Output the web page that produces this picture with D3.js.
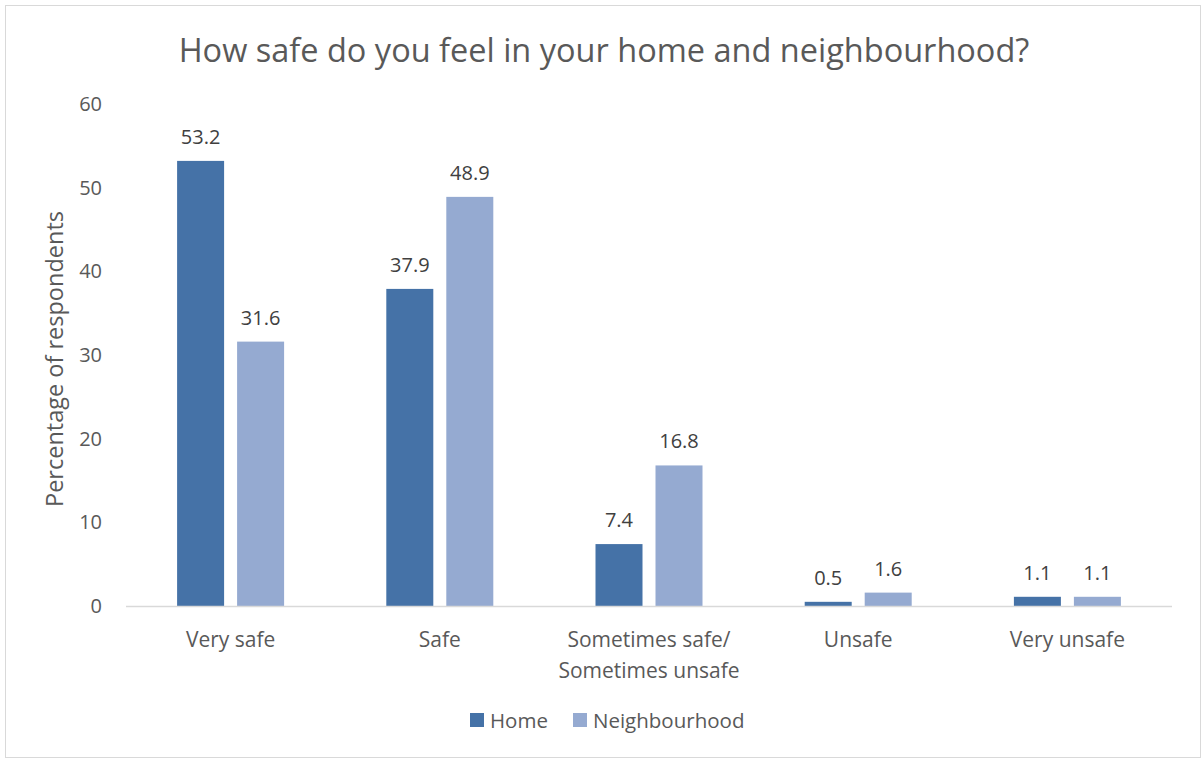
<!DOCTYPE html>
<html>
<head>
<meta charset="utf-8">
<script src="https://cdn.jsdelivr.net/npm/d3@7"></script>
<style>
  html, body { margin: 0; padding: 0; background: #fff; }
  svg { display: block; font-family: "Open Sans", "Noto Sans", sans-serif; }
</style>
</head>
<body>
<svg id="chart" width="1203" height="761"></svg>
<script>
const categories = ["Very safe", "Safe", "Sometimes safe/\nSometimes unsafe", "Unsafe", "Very unsafe"];
const seriesNames = ["Home", "Neighbourhood"];
const homeValues = [53.2, 37.9, 7.4, 0.5, 1.1];
const neighbourhoodValues = [31.6, 48.9, 16.8, 1.6, 1.1];
const yTicks = [0, 10, 20, 30, 40, 50, 60];
const colors = ["#4572A7", "#95AAD1"];
const title = "How safe do you feel in your home and neighbourhood?";
const yTitle = "Percentage of respondents";

const svg = d3.select("#chart");
const textColor = "#595959";

// outer frame
svg.append("rect")
  .attr("x", 5.5).attr("y", 5.5).attr("width", 1195).attr("height", 752)
  .attr("fill", "#fff").attr("stroke", "#D9D9D9").attr("stroke-width", 1);

const plot = { left: 126, right: 1172, top: 104, bottom: 606 };

const x0 = d3.scaleBand().domain(d3.range(categories.length))
  .range([plot.left, plot.right]).paddingInner(0).paddingOuter(0);
const bandW = x0.bandwidth();
const barW = 47, barGap = 13;
const x1 = d3.scaleOrdinal().domain([0, 1])
  .range([bandW / 2 - barGap / 2 - barW, bandW / 2 + barGap / 2]);
const y = d3.scaleLinear().domain([0, 60]).range([plot.bottom, plot.top]);

// title
svg.append("text")
  .attr("x", 604).attr("y", 62)
  .attr("text-anchor", "middle")
  .attr("fill", textColor)
  .attr("font-size", 32.5)
  .text(title);

// y axis tick labels
const yAxis = d3.axisLeft(y).tickValues(yTicks).tickSize(0).tickPadding(0);
const yg = svg.append("g").attr("transform", `translate(${plot.left - 24},0)`).call(yAxis);
yg.select(".domain").remove();
yg.selectAll("text").attr("fill", textColor).attr("font-size", 20)
  .attr("font-family", "'Open Sans', sans-serif");

// y axis title
svg.append("text")
  .attr("transform", `translate(63,${(plot.top + plot.bottom) / 2 + 4}) rotate(-90)`)
  .attr("text-anchor", "middle")
  .attr("fill", textColor)
  .attr("font-size", 23.5)
  .text(yTitle);

// bars
const data = categories.map((c, i) => ({ i, values: [homeValues[i], neighbourhoodValues[i]] }));
const groups = svg.append("g").selectAll("g").data(data).join("g")
  .attr("transform", d => `translate(${x0(d.i)},0)`);

groups.selectAll("rect").data(d => d.values.map((v, s) => ({ v, s })))
  .join("rect")
  .attr("x", d => x1(d.s))
  .attr("y", d => y(d.v))
  .attr("width", barW)
  .attr("height", d => y(0) - y(d.v))
  .attr("fill", d => colors[d.s]);

groups.selectAll("text.val").data(d => d.values.map((v, s) => ({ v, s })))
  .join("text")
  .attr("class", "val")
  .attr("x", d => x1(d.s) + barW / 2)
  .attr("y", d => y(d.v) - 17)
  .attr("text-anchor", "middle")
  .attr("fill", "#404040")
  .attr("font-size", 20)
  .text(d => d3.format(".1f")(d.v));

// baseline
svg.append("line")
  .attr("x1", plot.left).attr("x2", plot.right)
  .attr("y1", y(0) + 0.5).attr("y2", y(0) + 0.5)
  .attr("stroke", "#D9D9D9").attr("stroke-width", 1.5);

// category labels
const xl = svg.append("g").selectAll("text").data(categories).join("text")
  .attr("x", (d, i) => x0(i) + bandW / 2)
  .attr("y", 647)
  .attr("text-anchor", "middle")
  .attr("fill", textColor)
  .attr("font-size", 21);
xl.each(function(d) {
  const lines = d.split("\n");
  d3.select(this).selectAll("tspan").data(lines).join("tspan")
    .attr("x", d3.select(this).attr("x"))
    .attr("dy", (l, k) => k === 0 ? 0 : 31)
    .text(l => l);
});

// legend
const legend = svg.append("g");
const legendItems = [{ x: 470, name: seriesNames[0], c: colors[0] }, { x: 573, name: seriesNames[1], c: colors[1] }];
legendItems.forEach(it => {
  legend.append("rect").attr("x", it.x).attr("y", 713).attr("width", 14).attr("height", 14).attr("fill", it.c);
  legend.append("text").attr("x", it.x + 20).attr("y", 727.5)
    .attr("fill", textColor).attr("font-size", 20.5).text(it.name);
});
</script>
</body>
</html>
